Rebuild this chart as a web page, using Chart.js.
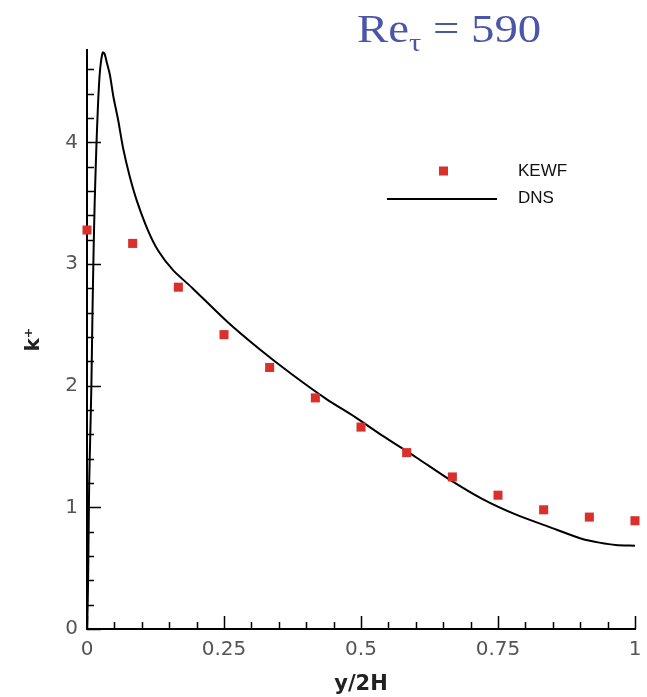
<!DOCTYPE html>
<html><head><meta charset="utf-8">
<script src="https://cdn.jsdelivr.net/npm/chart.js@4"></script>
<style>html,body{margin:0;padding:0;background:#fff;}#wrap{position:relative;width:647px;height:697px;}</style>
</head><body><div id="wrap"><canvas id="c" width="647" height="697"></canvas></div>
<script>
// ---- data ----
const kewfX = [0, 0.0833, 0.1667, 0.25, 0.3333, 0.4167, 0.5, 0.5833, 0.6667, 0.75, 0.8333, 0.9167, 1];
const kewfK = [3.28, 3.17, 2.81, 2.42, 2.15, 1.90, 1.66, 1.45, 1.25, 1.10, 0.98, 0.92, 0.89];
const dnsX = [0, 0.001, 0.002, 0.003, 0.004, 0.006, 0.008, 0.010, 0.012, 0.014, 0.017, 0.020, 0.023, 0.026, 0.029, 0.032, 0.036, 0.042, 0.048, 0.057, 0.066, 0.078, 0.091, 0.111, 0.130, 0.157, 0.193, 0.255, 0.315, 0.375, 0.437, 0.490, 0.539, 0.601, 0.661, 0.721, 0.783, 0.843, 0.904, 0.935, 0.965, 1.0];
const dnsK = [0, 0.15, 0.4, 0.8, 1.2, 1.6, 2.0, 2.6, 3.1, 3.5, 3.95, 4.3, 4.55, 4.68, 4.74, 4.73, 4.66, 4.55, 4.38, 4.18, 3.95, 3.72, 3.52, 3.28, 3.11, 2.95, 2.80, 2.53, 2.30, 2.09, 1.89, 1.74, 1.59, 1.41, 1.23, 1.07, 0.94, 0.84, 0.74, 0.71, 0.69, 0.685];
const xTicks = [0, 0.25, 0.5, 0.75, 1];
const xTickLabels = ['0', '0.25', '0.5', '0.75', '1'];
const yTicks = [0, 1, 2, 3, 4];
const yTickLabels = ['0', '1', '2', '3', '4'];
const seriesNames = ['KEWF', 'DNS'];

const SANS = "'DejaVu Sans', Verdana, sans-serif";
const LSANS = "'Liberation Sans', Arial, sans-serif";
const SERIF = "'Liberation Serif', 'Times New Roman', serif";
const RED = '#d9302c';

const decorPlugin = {
  id: 'decor',
  afterDraw(chart) {
    const {ctx, chartArea: a, scales: {x, y}} = chart;
    ctx.save();
    ctx.strokeStyle = '#000';
    ctx.lineWidth = 1.5;
    ctx.beginPath();
    for (let i = 0; i <= 20; i++) {
      const v = i * 0.05;
      const px = Math.round(x.getPixelForValue(v)) + 0.5;
      const len = (i % 5 === 0) ? 13 : 7;
      ctx.moveTo(px, a.bottom); ctx.lineTo(px, a.bottom - len);
    }
    for (let i = 0; i <= 23; i++) {
      const v = i * 0.2;
      const py = Math.round(y.getPixelForValue(v)) + 0.5;
      const len = (i % 5 === 0) ? 14 : 7;
      ctx.moveTo(a.left, py); ctx.lineTo(a.left + len, py);
    }
    ctx.stroke();

    // legend
    const lx = a.left + 300, ly = 171;
    ctx.fillStyle = RED;
    ctx.fillRect(lx + 52, ly - 4.5, 9, 9);
    ctx.strokeStyle = '#000'; ctx.lineWidth = 2;
    ctx.beginPath(); ctx.moveTo(lx, ly + 28); ctx.lineTo(lx + 110, ly + 28); ctx.stroke();
    ctx.fillStyle = '#111';
    ctx.font = '17px ' + LSANS;
    ctx.textBaseline = 'middle';
    ctx.textAlign = 'left';
    ctx.fillText(seriesNames[0], lx + 131, ly);
    ctx.fillText(seriesNames[1], lx + 131, ly + 27);

    // title  Re_tau = 590 (slightly wide, as in the reference)
    ctx.fillStyle = '#4a57a8';
    ctx.textBaseline = 'alphabetic';
    ctx.translate(357, 0);
    ctx.scale(1.17, 1);
    ctx.font = '40px ' + SERIF;
    let tx = 0;
    ctx.fillText('Re', tx, 42);
    tx += ctx.measureText('Re').width;
    ctx.font = '26px ' + SERIF;
    ctx.fillText('τ', tx, 51);
    tx += ctx.measureText('τ').width;
    ctx.font = '40px ' + SERIF;
    ctx.fillText(' = 590', tx, 42);
    ctx.restore();
  }
};

new Chart(document.getElementById('c'), {
  type: 'scatter',
  data: {
    datasets: [
      {
        label: seriesNames[0],
        data: kewfX.map((v, i) => ({x: v, y: kewfK[i]})),
        pointStyle: 'rect',
        pointRadius: 6.4,
        pointBackgroundColor: RED,
        pointBorderWidth: 0,
        showLine: false,
        clip: false
      },
      {
        label: seriesNames[1],
        type: 'line',
        data: dnsX.map((v, i) => ({x: v, y: dnsK[i]})),
        borderColor: '#000',
        borderWidth: 2,
        pointRadius: 0,
        tension: 0.25,
        fill: false,
        clip: false
      }
    ]
  },
  options: {
    responsive: false,
    animation: false,
    devicePixelRatio: 1,
    layout: {padding: {top: 50, right: 12, left: 0, bottom: 0}},
    plugins: {legend: {display: false}, tooltip: {enabled: false}, title: {display: false}},
    scales: {
      x: {
        type: 'linear', min: 0, max: 1,
        afterBuildTicks: s => { s.ticks = xTicks.map(v => ({value: v})); },
        afterFit: s => { s.height = 68; s.paddingRight = 0; s.paddingLeft = 0; },
        ticks: {
          autoSkip: false, maxRotation: 0, padding: 9, color: '#555',
          font: {family: SANS, size: 20},
          callback: v => xTickLabels[xTicks.indexOf(v)]
        },
        grid: {display: false, drawTicks: false},
        border: {display: true, color: '#000', width: 2},
        title: {display: true, text: 'y/2H', color: '#222', font: {family: SANS, size: 21, weight: 'bold'}, padding: {top: 0, bottom: 0}}
      },
      y: {
        type: 'linear', min: 0, max: 4.76,
        afterBuildTicks: s => { s.ticks = yTicks.map(v => ({value: v})); },
        afterFit: s => { s.width = 87; },
        ticks: {
          autoSkip: false, padding: 9, color: '#555',
          font: {family: SANS, size: 20},
          callback: v => yTickLabels[yTicks.indexOf(v)]
        },
        grid: {display: false, drawTicks: false},
        border: {display: true, color: '#000', width: 2},
        title: {display: true, text: 'k⁺', color: '#222', font: {family: SANS, size: 20, weight: 'bold'}, padding: {top: 22, bottom: 0}}
      }
    }
  },
  plugins: [decorPlugin]
});
</script></body></html>
